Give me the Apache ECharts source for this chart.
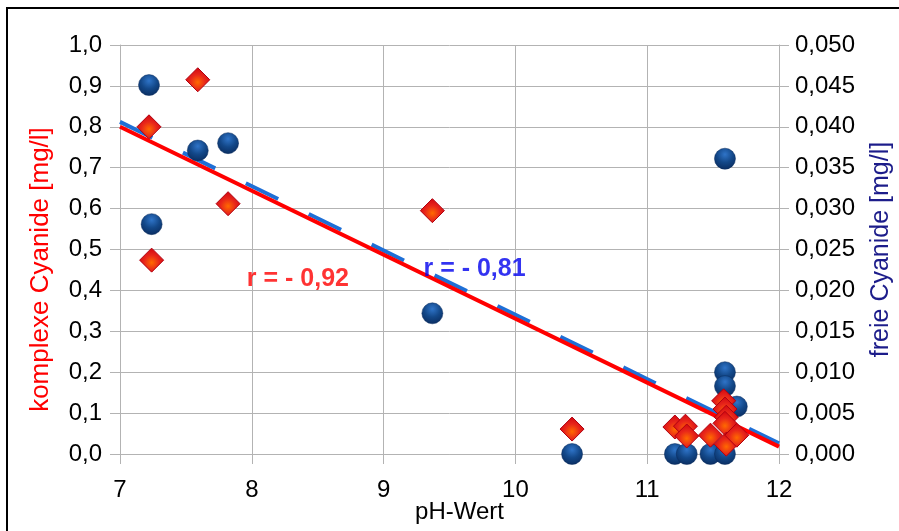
<!DOCTYPE html>
<html>
<head>
<meta charset="utf-8">
<script src="https://cdn.jsdelivr.net/npm/echarts@6/dist/echarts.min.js"></script>
<style>
html,body{margin:0;padding:0;background:#fff;}
#c{width:899px;height:531px;}
</style>
</head>
<body>
<div id="c"></div>
<script>
// ---- data ----
var xTicks = [7, 8, 9, 10, 11, 12];
// complexe Cyanide (left axis, mg/l)
var phComplex = [7.22, 7.59, 7.82, 7.24, 9.37, 10.43, 11.21, 11.29, 11.30, 11.48, 11.58, 11.59, 11.60, 11.59, 11.60, 11.68];
var complexVals = [0.80, 0.915, 0.612, 0.474, 0.595, 0.061, 0.066, 0.068, 0.044, 0.046, 0.130, 0.110, 0.090, 0.075, 0.024, 0.046];
// freie Cyanide (right axis, mg/l)
var phFree = [7.22, 7.59, 7.82, 7.24, 9.37, 11.59, 10.43, 11.21, 11.30, 11.48, 11.59, 11.59, 11.59, 11.68];
var freeVals = [0.0451, 0.0371, 0.0380, 0.0281, 0.0172, 0.0361, 0.0, 0.0, 0.0, 0.0, 0.0, 0.0100, 0.0083, 0.0058];
// trend lines (end points, x = 7 and 12)
var trendX = [7, 12];
var trendComplex = [0.80, 0.018];
var trendFree = [0.0406, 0.0013];
// annotations
var noteTexts = ['r = - 0,92', 'r = - 0,81'];
var notePos = [[8.35, 0.428], [9.69, 0.452]];

function zip(a, b) { return a.map(function (v, i) { return [v, b[i]]; }); }

var chart = echarts.init(document.getElementById('c'), null, {renderer: 'canvas'});
var FONT = 'Liberation Sans';
var grid = '#b3b3b3';

var option = {
  backgroundColor: '#ffffff',
  animation: false,
  textStyle: {fontFamily: FONT},
  graphic: [{
    type: 'rect', z: 100, silent: true,
    shape: {x: 7, y: 8, width: 1000, height: 1000},
    style: {fill: 'none', stroke: '#000', lineWidth: 2}
  }],
  grid: {left: 120, right: 120, top: 45, bottom: 77, containLabel: false, outerBoundsMode: 'none'},
  xAxis: {
    type: 'value', min: 7, max: 12, interval: 1,
    name: 'pH-Wert', nameLocation: 'middle', nameGap: 46, nameMoveOverlap: false,
    nameTextStyle: {color: '#000', fontSize: 24, fontFamily: FONT, padding: [0, 0, 0, 20]},
    axisLine: {show: true, lineStyle: {color: grid, width: 1}},
    axisTick: {show: true, inside: false, length: 10, lineStyle: {color: grid}},
    axisLabel: {color: '#000', fontSize: 24, fontFamily: FONT, margin: 24,
      formatter: function (v) { return xTicks.indexOf(v) >= 0 ? String(v) : ''; }},
    splitLine: {show: true, lineStyle: {color: grid, width: 1}}
  },
  yAxis: [{
    type: 'value', min: 0, max: 1.0, interval: 0.1, position: 'left',
    name: 'komplexe Cyanide [mg/l]', nameLocation: 'middle', nameGap: 66, nameRotate: 90,
    nameTextStyle: {color: '#ff0000', fontSize: 26, fontFamily: FONT, padding: [0, 40, 0, 0]},
    axisLine: {show: true, lineStyle: {color: grid, width: 1}},
    axisTick: {show: true, inside: false, length: 10, lineStyle: {color: grid}},
    axisLabel: {color: '#000', fontSize: 24, fontFamily: FONT, margin: 18,
      formatter: function (v) { return v.toFixed(1).replace('.', ','); }},
    splitLine: {show: true, lineStyle: {color: grid, width: 1}}
  }, {
    type: 'value', min: 0, max: 0.05, interval: 0.005, position: 'right',
    name: 'freie Cyanide [mg/l]', nameLocation: 'middle', nameGap: 90, nameRotate: 90,
    nameTextStyle: {color: '#1c1c8a', fontSize: 25, fontFamily: FONT},
    axisLine: {show: true, lineStyle: {color: grid, width: 1}},
    axisTick: {show: true, inside: false, length: 10, lineStyle: {color: grid}},
    axisLabel: {color: '#000', fontSize: 24, fontFamily: FONT, margin: 16,
      formatter: function (v) { return v.toFixed(3).replace('.', ','); }},
    splitLine: {show: false}
  }],
  series: [{
    type: 'line', yAxisIndex: 1, z: 2, symbol: 'none', silent: true,
    data: zip(trendX, trendFree),
    lineStyle: {color: '#1e6fd6', width: 4, type: [36, 34]}
  }, {
    type: 'line', yAxisIndex: 0, z: 3, symbol: 'none', silent: true,
    data: zip(trendX, trendComplex),
    lineStyle: {color: '#ff0000', width: 4}
  }, {
    type: 'scatter', yAxisIndex: 1, z: 4,
    symbol: 'circle', symbolSize: 21,
    data: zip(phFree, freeVals),
    itemStyle: {
      opacity: 1,
      color: {type: 'radial', x: 0.5, y: 0.3, r: 0.75,
        colorStops: [{offset: 0, color: '#2f74c8'}, {offset: 0.5, color: '#134889'}, {offset: 1, color: '#092a5c'}]},
      borderColor: '#092a5c', borderWidth: 0.5
    }
  }, {
    type: 'scatter', yAxisIndex: 0, z: 5,
    symbol: 'diamond', symbolSize: 24,
    data: zip(phComplex, complexVals),
    itemStyle: {
      opacity: 1,
      color: {type: 'radial', x: 0.5, y: 0.6, r: 0.55,
        colorStops: [{offset: 0, color: '#ff6a00'}, {offset: 0.55, color: '#e8261a'}, {offset: 1, color: '#d40a12'}]},
      borderColor: '#b00010', borderWidth: 1
    }
  }, {
    type: 'scatter', yAxisIndex: 0, z: 6, symbolSize: 0, silent: true,
    data: [{value: notePos[0], label: {formatter: noteTexts[0], color: '#ff0000'}},
           {value: notePos[1], label: {formatter: noteTexts[1], color: '#0000ee'}}],
    label: {show: true, position: 'inside', fontSize: 25, fontWeight: 'bold', fontFamily: FONT}
  }]
};
chart.setOption(option);
</script>
</body>
</html>
